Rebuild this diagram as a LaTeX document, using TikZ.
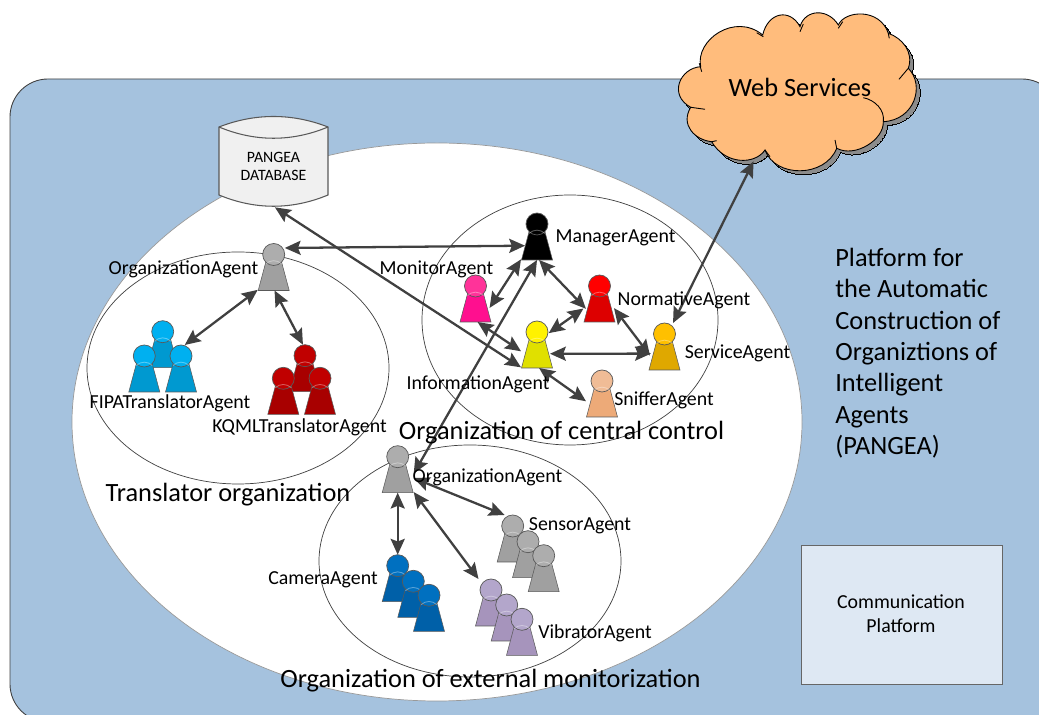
\documentclass[tikz,border=0pt]{standalone}
\usepackage{fontspec}
\setmainfont{Carlito}
\usetikzlibrary{arrows.meta}
\definecolor{platformblue}{HTML}{A5C2DE}
\definecolor{commblue}{HTML}{DEE8F3}
\definecolor{cloudorange}{HTML}{FFBC7C}
\definecolor{linegray}{HTML}{404040}
\definecolor{monhead}{HTML}{FF3399}
\definecolor{monbody}{HTML}{FF0F8F}
\definecolor{normbody}{HTML}{DD0000}
\definecolor{infobody}{HTML}{E0E000}
\definecolor{servhead}{HTML}{FFC000}
\definecolor{servbody}{HTML}{DFA800}
\definecolor{snifhead}{HTML}{F0BC96}
\definecolor{snifbody}{HTML}{EDAA78}
\definecolor{grayhead}{HTML}{ADADAD}
\definecolor{graybody}{HTML}{A0A0A0}
\definecolor{fipahead}{HTML}{00B0F0}
\definecolor{fipabody}{HTML}{0099D0}
\definecolor{kqmlhead}{HTML}{C00000}
\definecolor{kqmlbody}{HTML}{A80000}
\definecolor{camhead}{HTML}{0070C0}
\definecolor{cambody}{HTML}{0060A8}
\definecolor{vibhead}{HTML}{B3A6CB}
\definecolor{vibbody}{HTML}{A694BC}
\tikzset{
    agentbox/.style={minimum width=0.64cm,minimum height=0.94cm,inner sep=0pt,outer sep=0pt},
    orgring/.style={draw=linegray,line width=0.4pt},
    conn/.style={<->,>={Stealth[length=9pt,width=8pt,inset=1.5pt]},draw=linegray,line width=1.3pt},
    lbl/.style={font=\fontsize{11.3}{13}\selectfont,inner sep=0pt},
    biglbl/.style={font=\fontsize{15}{17.8}\selectfont,inner sep=0pt}
}
\newcommand{\agent}[5]{
    \draw[draw=black!65,line width=0.3pt,fill=#5] (#2-8,#3+8) -- (#2+8,#3+8) -- (#2+15.5,#3+36) -- (#2-15.5,#3+36) -- cycle;
    \draw[draw=black!65,line width=0.4pt,fill=#4] (#2,#3) circle (11);
    \draw[white,opacity=0.35,line width=0.5pt] (#2-8,#3+9.5) arc (225:315:11.3);
    \node[agentbox] (#1) at (#2,#3+12.5) {};
}

\begin{document}
\begin{tikzpicture}[x=0.02cm,y=-0.02cm]
        \useasboundingbox (0,0) rectangle (1039,715);
        \clip (0,0) rectangle (1039,715);

        \draw[draw=linegray,line width=0.5pt,fill=platformblue,rounded corners=0.76cm] (10,79) rectangle (1060,722);
        \draw[draw=black!40,line width=0.4pt,fill=white] (437,422) ellipse (365 and 279);
        \draw[orgring] (570,320) ellipse (148 and 125);
        \draw[orgring] (238,368) ellipse (151 and 116);
        \draw[orgring] (470,561) ellipse (151 and 116);

        \draw[draw=black!60,line width=0.4pt,fill=commblue] (801,545) rectangle (1002,684);
        \node[lbl,align=center] (comm) at (901,614) {Communication\\[0.9pt]Platform};

        \draw[draw=black!65,line width=0.6pt,fill=black!6] (219,127) .. controls (255,113) and (292,113) .. (328,127) -- (328,195) .. controls (292,210) and (255,210) .. (219,195) -- cycle;
        \draw[draw=black!65,line width=0.6pt] (219,127) .. controls (255,142) and (292,142) .. (328,127);
        \node[font=\fontsize{9}{9.8}\selectfont,align=center,inner sep=0pt,minimum width=2.18cm,minimum height=1.62cm] (db) at (273.5,166.5) {PANGEA\\DATABASE};

        \foreach \off/\col/\wid in {4/black!45/0pt, 0/cloudorange/0.5pt} {
            \draw[draw=black,line width=\wid,fill=\col,shift={(\off,\off)}] (700.7,66.7) .. controls (695,40) and (735,12) .. (762.7,35)
                .. controls (768,12) and (790,8) .. (800,26.7)
                .. controls (805,9) and (828,8) .. (838.3,25)
                .. controls (845,10) and (880,8) .. (888.3,33.3)
                .. controls (902,38) and (914,52) .. (908.3,68.3)
                .. controls (925,85) and (915,120) .. (883.3,121.7)
                .. controls (884,140) and (855,158) .. (836.7,148.3)
                .. controls (825,178) and (775,178) .. (765,150)
                .. controls (755,165) and (725,165) .. (711.7,141.7)
                .. controls (695,140) and (680,125) .. (690.7,107.3)
                .. controls (668,95) and (680,68) .. (700.7,66.7) -- cycle;
        }
        \draw[line width=0.5pt] (699.3,63.3) -- (701.7,71.7);
        \draw[line width=0.5pt] (756.7,32.7) -- (763.3,36.7);
        \draw[line width=0.5pt] (800,31.7) -- (803.3,24);
        \draw[line width=0.5pt] (838.3,28.3) -- (842.7,21.7);
        \draw[line width=0.5pt] (888.3,33.3) -- (889.3,38.3);
        \draw[line width=0.5pt] (908.3,68.3) -- (899,79.3);
        \draw[line width=0.5pt] (883.3,121.7) .. controls (885,110) and (875,100) .. (863.3,97.7);
        \draw[line width=0.5pt] (836.7,148.3) -- (835,140);
        \draw[line width=0.5pt] (765,150) -- (770,156.7);
        \draw[line width=0.5pt] (711.7,141.7) -- (716.7,140.7);
        \draw[line width=0.5pt] (690.7,107.3) -- (705,109.3);
        \node[biglbl,minimum width=4.8cm,minimum height=2.96cm] (web) at (800,87) {Web Services};

        \agent{mgr}{537}{224}{black}{black}
        \agent{mon}{475.5}{286}{monhead}{monbody}
        \agent{norm}{599.5}{286}{red}{normbody}
        \agent{info}{537}{332}{yellow}{infobody}
        \agent{serv}{664.5}{334}{servhead}{servbody}
        \agent{snif}{602}{381}{snifhead}{snifbody}
        \agent{orgtop}{273.7}{254.5}{grayhead}{graybody}
        \agent{fipaB}{162.7}{331.7}{fipahead}{fipabody}
        \agent{fipaA}{144.3}{356}{fipahead}{fipabody}
        \agent{fipaC}{181}{356}{fipahead}{fipabody}
        \agent{kqmlB}{305}{355.7}{kqmlhead}{kqmlbody}
        \agent{kqmlA}{283.3}{378.3}{kqmlhead}{kqmlbody}
        \agent{kqmlC}{320}{378.3}{kqmlhead}{kqmlbody}
        \agent{orgext}{397.7}{456.7}{grayhead}{graybody}
        \agent{sensA}{512.7}{526}{grayhead}{graybody}
        \agent{sensB}{528}{541.7}{grayhead}{graybody}
        \agent{sensC}{543.7}{555.7}{grayhead}{graybody}
        \agent{camA}{397.7}{565.7}{camhead}{cambody}
        \agent{camB}{413.3}{581.3}{camhead}{cambody}
        \agent{camC}{429}{595.3}{camhead}{cambody}
        \agent{vibA}{491}{590}{vibhead}{vibbody}
        \agent{vibB}{506.7}{605}{vibhead}{vibbody}
        \agent{vibC}{522}{619.3}{vibhead}{vibbody}

        \draw[conn,shorten <=-2.8pt,shorten >=-2.3pt] (orgtop.50) -- (mgr.210);
        \draw[conn,shorten <=-2pt] (mon.-22) -- (mgr.235);
        \draw[conn,shorten >=-2pt] (mgr.275) -- (norm.206);
        \draw[conn,shorten <=-3pt] (info.42) -- (norm.212);
        \draw[conn,shorten <=-1.4pt,shorten >=-1.4pt] (norm.-36.5) -- (serv.204);
        \draw[conn,shorten <=-1.7pt,shorten >=-1.4pt] (info.-30) -- (serv.204);
        \draw[conn] (mon.-85) -- (info.203);
        \draw[conn] (info.275) -- (snif.206);
        \draw[conn] (db.-88) -- (info.235);
        \draw[conn] (orgext.-15.6) -- (mgr.south);
        \draw[conn] (serv.70) -- (web.238);
        \draw[conn] (orgtop.235) -- (fipaC.81);
        \draw[conn] (orgtop.272) -- (kqmlB.95);
        \draw[conn] (orgext.-29) -- (sensA.109);
        \draw[conn] (orgext.south) -- (camA.north);
        \draw[conn] (orgext.-55.7) -- (vibA.118);

        \node[lbl] (mgrlabel) at (615.5,238) {ManagerAgent};
        \node[lbl] (orgtoplabel) at (183.5,269) {OrganizationAgent};
        \node[lbl] (monlabel) at (436.5,269) {MonitorAgent};
        \node[lbl] (normlabel) at (684,300) {NormativeAgent};
        \node[lbl] (servlabel) at (737.5,353) {ServiceAgent};
        \node[lbl] (infolabel) at (478,384) {InformationAgent};
        \node[lbl] (sniflabel) at (664,400) {SnifferAgent};
        \node[lbl] (fipalabel) at (170,403) {FIPATranslatorAgent};
        \node[lbl] (kqmllabel) at (299.5,427) {KQMLTranslatorAgent};
        \node[lbl] (orgextlabel) at (487.5,477) {OrganizationAgent};
        \node[lbl] (senslabel) at (580,526) {SensorAgent};
        \node[lbl] (camlabel) at (323,580) {CameraAgent};
        \node[lbl] (viblabel) at (595,633) {VibratorAgent};

        \node[biglbl] (central) at (561.5,433) {Organization of central control};
        \node[biglbl] (translator) at (228,495) {Translator organization};
        \node[biglbl] (external) at (490.5,681) {Organization of external monitorization};
        \node[biglbl,align=left,anchor=north west] (platform) at (835,248) {Platform for\\the Automatic\\Construction of\\Organiztions of\\Intelligent\\Agents\\(PANGEA)};
    \end{tikzpicture}
\end{document}
